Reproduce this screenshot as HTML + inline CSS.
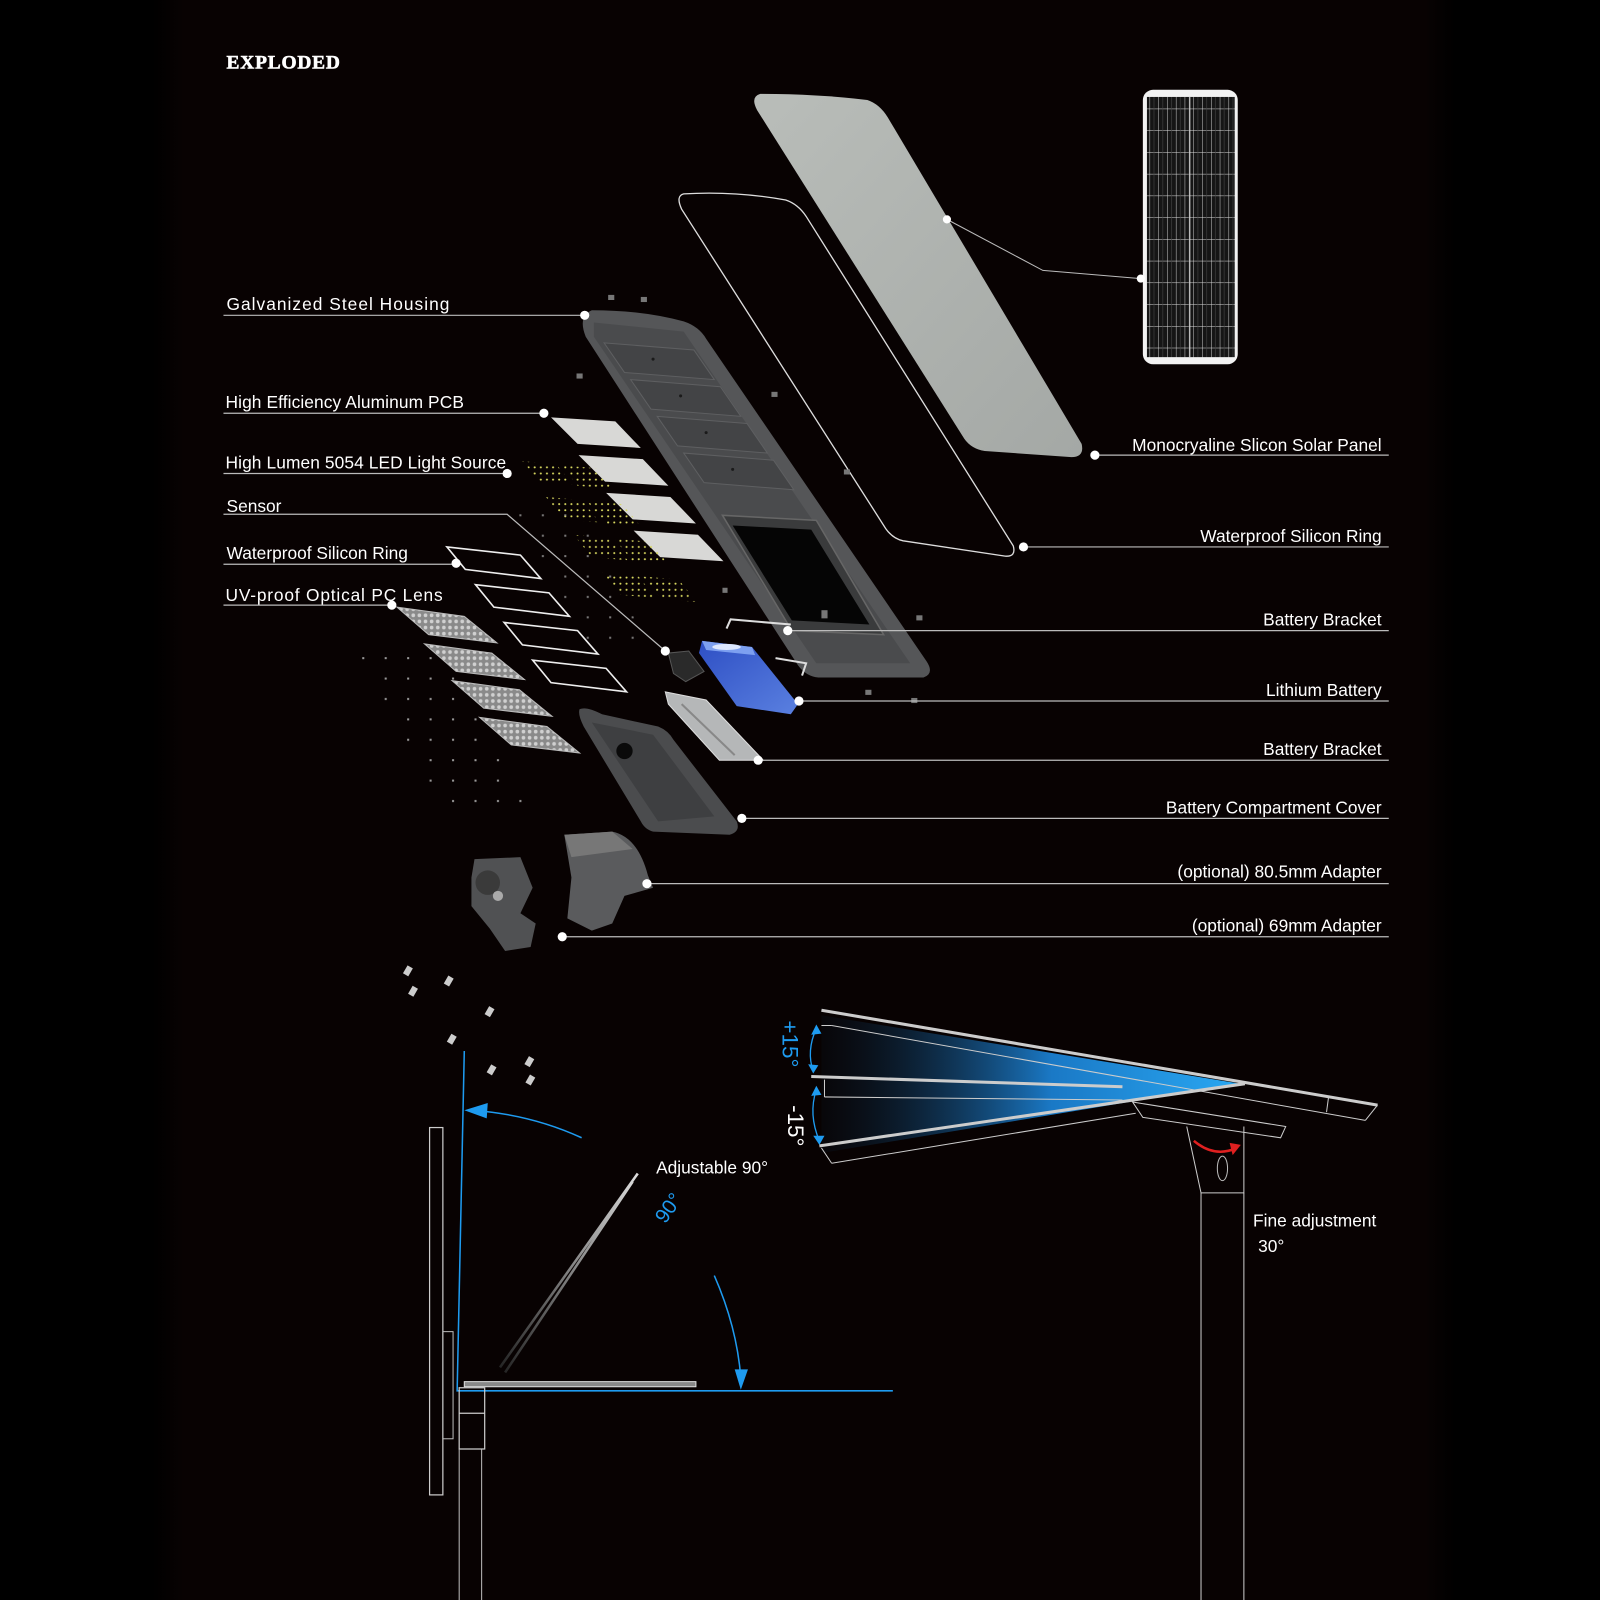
<!DOCTYPE html>
<html><head><meta charset="utf-8"><style>
html,body{margin:0;padding:0;background:#000;}
svg{display:block}
text{font-family:"Liberation Sans",sans-serif;}
</style></head><body>
<svg width="1600" height="1600" viewBox="0 0 1568 1568" xmlns="http://www.w3.org/2000/svg">
<defs>
<linearGradient id="bg" x1="0" x2="1" y1="0" y2="0">
<stop offset="0" stop-color="#000"/><stop offset="0.095" stop-color="#000"/><stop offset="0.115" stop-color="#080202"/><stop offset="0.89" stop-color="#080202"/><stop offset="0.91" stop-color="#000"/><stop offset="1" stop-color="#000"/></linearGradient>
<linearGradient id="panelG" x1="0" y1="0" x2="1" y2="1"><stop offset="0" stop-color="#b9bdb9"/><stop offset="1" stop-color="#a4a8a5"/></linearGradient>
<linearGradient id="fan" x1="0" x2="1" y1="0" y2="0"><stop offset="0" stop-color="#0a1a2a" stop-opacity="0.2"/><stop offset="0.55" stop-color="#1b7fd0"/><stop offset="1" stop-color="#2bb0ff"/></linearGradient>
<linearGradient id="bat" x1="0" y1="0" x2="1" y2="1"><stop offset="0" stop-color="#2e4fc4"/><stop offset="1" stop-color="#5a80e0"/></linearGradient>
<linearGradient id="tilt" x1="1" y1="0" x2="0" y2="1"><stop offset="0" stop-color="#ddd"/><stop offset="1" stop-color="#222"/></linearGradient>
<pattern id="led" width="6" height="6" patternUnits="userSpaceOnUse"><circle cx="2" cy="2" r="1" fill="#d8d860"/></pattern>
<pattern id="lens" width="6" height="6" patternUnits="userSpaceOnUse"><rect width="6" height="6" fill="#8a8a8a"/><circle cx="3" cy="3" r="1.8" fill="#d0d0d0"/></pattern>
<pattern id="cells" width="8.6" height="21.3" patternUnits="userSpaceOnUse"><rect width="8.6" height="21.3" fill="#151515"/><path d="M0 0V21.3M0 0H8.6" stroke="#ddd" stroke-width="0.9"/><path d="M4.3 0V21.3" stroke="#444" stroke-width="0.6"/></pattern>
<pattern id="scr" width="22" height="20" patternUnits="userSpaceOnUse"><rect x="3" y="4" width="2" height="2" fill="#aaa"/></pattern>
</defs>
<rect width="1568" height="1568" fill="url(#bg)"/>

<text x="222" y="67" font-weight="bold" font-size="19" fill="#fff" letter-spacing="0.8" stroke="#fff" stroke-width="0.6" style="font-family:'Liberation Serif',serif">EXPLODED</text>

<path d="M745 92 Q800 92 850 98 Q862 102 870 115 L1060 435 Q1063 448 1050 448 L965 442 Q952 440 945 430 L742 108 Q735 95 745 92Z" fill="url(#panelG)"/>
<path d="M670 190 Q720 187 770 196 Q782 200 790 212 L993 535 Q996 546 985 545 L885 530 Q875 528 868 518 L668 205 Q662 192 670 190Z" fill="none" stroke="#ddd" stroke-width="1.3"/>
<path d="M580 304 Q630 304 670 315 Q685 320 692 332 L908 648 Q916 660 905 664 L802 664 Q790 663 782 652 L574 330 Q566 310 580 304Z" fill="#555658"/>
<path d="M582 316 L670 325 L892 650 L800 650 L582 330Z" fill="#4a4b4d"/>
<g fill="#434446" stroke="#5e5f61" stroke-width="1">
<path d="M592 336 L680 343 L700 372 L612 365Z"/>
<path d="M618 372 L706 379 L726 408 L638 401Z"/>
<path d="M644 408 L732 415 L752 444 L664 437Z"/>
<path d="M670 444 L758 451 L778 480 L690 473Z"/>
</g>
<path d="M708 505 L800 510 L866 622 L776 618Z" fill="#3a3b3c" stroke="#666" stroke-width="1.5"/>
<path d="M718 515 L795 519 L852 612 L776 608Z" fill="#050505"/>
<g fill="#1a1a1a"><circle cx="640" cy="352" r="1.5"/><circle cx="667" cy="388" r="1.5"/><circle cx="692" cy="424" r="1.5"/><circle cx="718" cy="460" r="1.5"/></g>
<g fill="#777"><rect x="596" y="289" width="6" height="5"/><rect x="628" y="291" width="6" height="5"/><rect x="565" y="366" width="6" height="5"/><rect x="756" y="384" width="6" height="5"/><rect x="827" y="460" width="6" height="5"/><rect x="898" y="603" width="6" height="5"/><rect x="805" y="598" width="6" height="8"/><rect x="848" y="676" width="6" height="5"/><rect x="893" y="684" width="6" height="5"/><rect x="708" y="576" width="5" height="5"/></g>

<rect x="1120" y="88" width="93" height="269" rx="10" fill="#f2f2f2"/>
<rect x="1124" y="95" width="86" height="255" fill="url(#cells)"/>
<path d="M1166 95V350" stroke="#eee" stroke-width="1"/>
<path d="M928 215 L1022 265 L1118 273" fill="none" stroke="#bbb" stroke-width="1"/>
<circle cx="928" cy="215" r="4" fill="#fff"/><circle cx="1118" cy="273" r="4" fill="#fff"/>

<g fill="#d8d8d6">
<path d="M540 409 L603 413 L628 439 L566 435Z"/>
<path d="M567 446 L630 450 L655 476 L593 472Z"/>
<path d="M594 483 L657 487 L682 513 L620 509Z"/>
<path d="M621 520 L684 524 L709 550 L647 546Z"/>
</g>
<g fill="url(#led)">
<path d="M512 452 L545 455 L562 475 L529 472Z"/><path d="M550 456 L585 459 L600 479 L566 476Z"/>
<path d="M535 487 L570 490 L588 512 L553 509Z"/><path d="M575 491 L610 494 L628 516 L593 513Z"/>
<path d="M562 524 L597 527 L615 549 L580 546Z"/><path d="M602 528 L637 531 L655 553 L620 550Z"/>
<path d="M590 561 L625 564 L643 586 L608 583Z"/><path d="M630 565 L665 568 L683 590 L648 587Z"/>
</g>
<g fill="none" stroke="#eee" stroke-width="1.6">
<path d="M438 536 L510 544 L530 567 L456 558Z"/>
<path d="M466 573 L538 581 L558 604 L484 595Z"/>
<path d="M494 610 L566 618 L586 641 L512 632Z"/>
<path d="M522 647 L594 655 L614 678 L540 669Z"/>
</g>
<g fill="url(#lens)" stroke="#bbb" stroke-width="1">
<path d="M389 595 L455 604 L487 630 L420 622Z"/>
<path d="M416 631 L482 640 L514 666 L447 658Z"/>
<path d="M443 667 L509 676 L541 702 L474 694Z"/>
<path d="M470 703 L536 712 L568 738 L501 730Z"/>
</g>
<path d="M350 640 L440 640 L520 790 L430 790Z" fill="url(#scr)" opacity="0.9"/>
<path d="M500 490 L560 490 L640 640 L580 640Z" fill="url(#scr)" opacity="0.7"/>

<path d="M655 640 L675 638 L690 658 L672 668 L660 660Z" fill="#2a2a2a" stroke="#555"/>
<path d="M712 616 L716 607 L775 612 M760 645 L790 650 L786 662" fill="none" stroke="#ddd" stroke-width="2"/>
<path d="M688 628 L737 634 L782 690 L775 700 L722 692 L685 640Z" fill="url(#bat)"/>
<path d="M688 628 L737 634 L740 642 L692 637Z" fill="#7da0f0"/>
<ellipse cx="712" cy="634" rx="14" ry="3" fill="#dde8ff"/>
<path d="M652 678 L692 686 L748 745 L705 745 L655 690Z" fill="#b5b7b8" stroke="#ddd" stroke-width="1"/>
<path d="M668 690 L720 740" stroke="#888" stroke-width="2"/>
<path d="M568 695 Q575 692 590 700 L645 712 Q655 716 660 725 L722 805 Q726 815 715 818 L640 815 Q632 813 628 805 L572 712 Q566 700 568 695Z" fill="#4b4c4e"/>
<path d="M580 708 L640 720 L700 800 L645 805 Z" fill="#3e3f41"/>
<circle cx="612" cy="736" r="8" fill="#0a0a0a"/>
<path d="M553 818 L600 815 Q625 820 635 858 L640 870 L612 878 L600 905 L580 912 L556 900 L560 860Z" fill="#5a5b5d"/>
<path d="M553 818 L600 815 L620 832 L560 840Z" fill="#777"/>
<path d="M465 842 L510 840 L522 870 L510 895 L525 905 L520 928 L495 932 L480 910 L462 888 L462 860Z" fill="#505153"/>
<circle cx="478" cy="865" r="12" fill="#3a3a3a"/>
<circle cx="488" cy="878" r="5" fill="#aaa"/>
<g fill="#ccc"><rect x="397" y="947" width="6" height="9" transform="rotate(30 400 951)"/><rect x="437" y="957" width="6" height="9" transform="rotate(30 440 961)"/><rect x="402" y="967" width="6" height="9" transform="rotate(30 405 971)"/><rect x="477" y="987" width="6" height="9" transform="rotate(30 480 991)"/><rect x="440" y="1014" width="6" height="9" transform="rotate(30 443 1018)"/><rect x="479" y="1044" width="6" height="9" transform="rotate(30 482 1048)"/><rect x="516" y="1036" width="6" height="9" transform="rotate(30 519 1040)"/><rect x="517" y="1054" width="6" height="9" transform="rotate(30 520 1058)"/></g>

<g fill="#fff" font-size="17">
<text x="222" y="304" letter-spacing="1">Galvanized Steel Housing</text>
<text x="221" y="400" letter-spacing="0.1">High Efficiency Aluminum PCB</text>
<text x="221" y="459" letter-spacing="0.1">High Lumen 5054 LED Light Source</text>
<text x="222" y="502">Sensor</text>
<text x="222" y="548">Waterproof Silicon Ring</text>
<text x="221" y="589" letter-spacing="0.8">UV-proof Optical PC Lens</text>
</g>
<g stroke="#bbb" stroke-width="1.2" fill="none">
<path d="M219 309H573"/><path d="M219 405H533"/><path d="M219 464H497"/><path d="M219 504H497L652 638"/><path d="M219 553H447"/><path d="M219 593H384"/>
</g>
<g fill="#fff"><circle cx="573" cy="309" r="4.5"/><circle cx="533" cy="405" r="4.5"/><circle cx="497" cy="464" r="4.5"/><circle cx="652" cy="638" r="4.5"/><circle cx="447" cy="552" r="4.5"/><circle cx="384" cy="593" r="4.5"/></g>

<g fill="#fff" font-size="17" text-anchor="end">
<text x="1354" y="442">Monocryaline Slicon Solar Panel</text>
<text x="1354" y="531">Waterproof Silicon Ring</text>
<text x="1354" y="613">Battery Bracket</text>
<text x="1354" y="682">Lithium Battery</text>
<text x="1354" y="740">Battery Bracket</text>
<text x="1354" y="797">Battery Compartment Cover</text>
<text x="1354" y="860">(optional) 80.5mm Adapter</text>
<text x="1354" y="913">(optional) 69mm Adapter</text>
</g>
<g stroke="#bbb" stroke-width="1.2">
<path d="M1073 446H1361"/><path d="M1003 536H1361"/><path d="M772 618H1361"/><path d="M783 687H1361"/><path d="M743 745H1361"/><path d="M727 802H1361"/><path d="M634 866H1361"/><path d="M551 918H1361"/>
</g>
<g fill="#fff"><circle cx="1073" cy="446" r="4.5"/><circle cx="1003" cy="536" r="4.5"/><circle cx="772" cy="618" r="4.5"/><circle cx="783" cy="687" r="4.5"/><circle cx="743" cy="745" r="4.5"/><circle cx="727" cy="802" r="4.5"/><circle cx="634" cy="866" r="4.5"/><circle cx="551" cy="918" r="4.5"/></g>

<rect x="421" y="1105" width="13" height="360" fill="none" stroke="#ccc" stroke-width="1.2"/>
<rect x="434" y="1305" width="10" height="105" fill="none" stroke="#bbb" stroke-width="1"/>
<path d="M455 1030 L448 1363 H875" fill="none" stroke="#1e9bf0" stroke-width="1.5"/>
<path d="M570 1115 Q520 1092 462 1088" fill="none" stroke="#1e9bf0" stroke-width="1.5"/>
<path d="M455 1088 L478 1081 L477 1096Z" fill="#1e9bf0"/>
<path d="M700 1250 Q722 1300 726 1350" fill="none" stroke="#1e9bf0" stroke-width="1.5"/>
<path d="M726 1362 L720 1342 L733 1342Z" fill="#1e9bf0"/>
<path d="M625 1150 L490 1340 M620 1158 L495 1345" stroke="url(#tilt)" stroke-width="2.5"/>
<path d="M455 1354 H682 V1359 H455Z" fill="#888" stroke="#ddd" stroke-width="1"/>
<path d="M450 1360 H475 V1420 H450Z M450 1385 H475" fill="none" stroke="#ccc" stroke-width="1.2"/>
<path d="M450 1420 V1568 M472 1420 V1568" stroke="#bbb" stroke-width="1"/>
<text x="643" y="1150" fill="#fff" font-size="17">Adjustable 90°</text>
<text x="0" y="0" fill="#1e9bf0" font-size="20" transform="translate(652 1200) rotate(-55)">90°</text>

<path d="M805 995 L805 1130 L1215 1062Z" fill="url(#fan)" opacity="0.95"/>
<g stroke="#ccc" fill="none">
<path d="M805 990 L1350 1083" stroke-width="3"/>
<path d="M815 1005 L1338 1098" stroke-width="1"/>
<path d="M1338 1098 L1350 1083 M1300 1090 L1302 1075"/>
<path d="M795 1055 L1100 1065" stroke-width="3"/>
<path d="M808 1075 L1100 1078" stroke-width="1"/>
<path d="M803 1123 L1220 1062" stroke-width="3"/>
<path d="M815 1140 L1113 1091" stroke-width="1"/>
<path d="M805 1005 L815 1005 M808 1058 L808 1075 M805 1125 L815 1140" stroke-width="1"/>
<path d="M1110 1080 L1260 1104 L1255 1115 L1120 1095Z" stroke-width="1"/>
<path d="M1163 1104 L1177 1169 H1219 V1104" stroke-width="1"/>
<path d="M1177 1169 V1568 M1219 1169 V1568" stroke-width="1"/>
</g>
<ellipse cx="1198" cy="1145" rx="5" ry="12" fill="none" stroke="#bbb"/>
<path d="M1170 1118 Q1190 1135 1212 1125" fill="none" stroke="#e02020" stroke-width="2.5"/>
<path d="M1216 1122 L1205 1120 L1208 1132Z" fill="#e02020"/>
<path d="M800 1008 Q790 1030 797 1050 M800 1068 Q792 1092 803 1118" fill="none" stroke="#1e9bf0" stroke-width="1.3"/>
<path d="M800 1004 L795 1014 L805 1013Z M797 1052 L792 1043 L802 1044Z M800 1064 L795 1074 L805 1073Z M803 1122 L797 1113 L808 1113Z" fill="#1e9bf0"/>
<text x="0" y="0" fill="#1e9bf0" font-size="22" transform="translate(767 1000) rotate(90)">+15°</text>
<text x="0" y="0" fill="#fff" font-size="22" transform="translate(772 1083) rotate(90)">-15°</text>
<text x="1228" y="1202" fill="#fff" font-size="17">Fine adjustment</text>
<text x="1233" y="1227" fill="#fff" font-size="17">30°</text>
</svg>
</body></html>
